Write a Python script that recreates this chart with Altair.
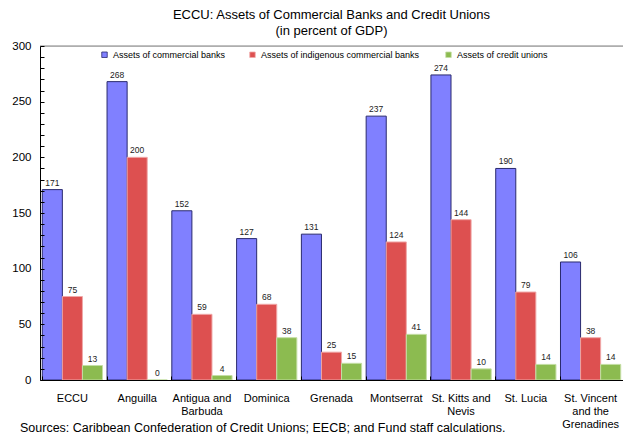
import altair as alt
import pandas as pd

categories = ["ECCU", "Anguilla", "Antigua and|Barbuda", "Dominica", "Grenada",
              "Montserrat", "St. Kitts and|Nevis", "St. Lucia", "St. Vincent|and the|Grenadines"]
series_names = ["Assets of commercial banks", "Assets of indigenous  commercial banks",
                "Assets of credit unions"]
commercial = [171, 268, 152, 127, 131, 237, 274, 190, 106]
indigenous = [75, 200, 59, 68, 25, 124, 144, 79, 38]
credit_unions = [13, 0, 4, 38, 15, 41, 10, 14, 14]

fills = ["#8080ff", "#dd5050", "#8cbb50"]
strokes = ["#2a2a6e", "#f0a8a8", "#c4dea4"]

rows = []
for vals, s in zip([commercial, indigenous, credit_unions], series_names):
    for c, v in zip(categories, vals):
        rows.append({"cat": c, "series": s, "value": v})
df = pd.DataFrame(rows)
one = pd.DataFrame({"a": [0]})

W, H = 583, 334
FONT = "Liberation Sans"

x_scale = alt.Scale(domain=categories, paddingInner=0.07, paddingOuter=0.035)
xo_scale = alt.Scale(domain=series_names, paddingInner=0, paddingOuter=0)
y_scale = alt.Scale(domain=[0, 300], nice=False)

bars = alt.Chart(df).mark_bar(strokeWidth=1).encode(
    x=alt.X("cat:N", sort=categories, scale=x_scale,
            axis=alt.Axis(title=None, orient="bottom", labelAngle=0,
                          labelExpr="split(datum.label, '|')", labelFontSize=11,
                          labelLineHeight=13, labelPadding=12, ticks=False,
                          domainColor="black", labelColor="black", labelBaseline="top",
                          labelFont=FONT, zindex=1)),
    xOffset=alt.XOffset("series:N", sort=series_names, scale=xo_scale),
    y=alt.Y("value:Q", scale=y_scale,
            axis=alt.Axis(title=None, orient="left", values=list(range(0, 301, 50)),
                          ticks=False, labelPadding=9, labelFontSize=11.5, grid=False,
                          domainColor="black", labelColor="black", labelFont=FONT,
                          zindex=1)),
    color=alt.Color("series:N", sort=series_names,
                    scale=alt.Scale(domain=series_names, range=fills),
                    legend=alt.Legend(title=None, orient="none", legendX=60, legendY=4,
                                      direction="horizontal", symbolType="square",
                                      symbolSize=30, labelFontSize=9, labelFont=FONT,
                                      columnPadding=22, labelColor="black", labelLimit=0,
                                      symbolStrokeWidth=0.8)),
    stroke=alt.Stroke("series:N", sort=series_names,
                      scale=alt.Scale(domain=series_names, range=strokes), legend=None),
)

labels = alt.Chart(df).mark_text(dy=-7, fontSize=8.5, color="#222222", font=FONT).encode(
    x=alt.X("cat:N", sort=categories,
            axis=alt.Axis(title=None, orient="top", offset=-H, bandPosition=0,
                          labels=False, domain=False, tickSize=4, tickColor="black",
                          tickWidth=1, zindex=2)),
    xOffset=alt.XOffset("series:N", sort=series_names),
    y=alt.Y("value:Q",
            axis=alt.Axis(title=None, orient="right", offset=-W, values=list(range(0, 301, 10)),
                          labels=False, domain=False, tickSize=4, tickColor="black",
                          tickWidth=1, grid=False, zindex=2)),
    text="value:Q",
)

top_rule = alt.Chart(one).mark_rule(color="#808080", strokeWidth=1).encode(
    x=alt.value(0), x2=alt.value(W), y=alt.value(0))

footer = alt.Chart(one).mark_text(
    text="Sources: Caribbean Confederation of Credit Unions;  EECB; and Fund staff calculations.",
    align="left", baseline="alphabetic", fontSize=12.5, font=FONT, color="black",
).encode(x=alt.value(-20), y=alt.value(H + 52))

chart = alt.layer(bars, labels, top_rule, footer).resolve_axis(
    x="independent", y="independent"
).properties(
    width=W, height=H,
    title=alt.TitleParams(["ECCU: Assets of Commercial Banks and Credit Unions",
                           "(in percent of GDP)"],
                          fontSize=13, fontWeight="normal", font=FONT, anchor="middle",
                          offset=2, lineHeight=16, color="black"),
    padding={"left": 32, "top": 38, "right": 0, "bottom": 56},
    autosize=alt.AutoSizeParams(type="none"),
).configure_view(stroke=None).configure(font=FONT)

chart.save("out.html", embed_options={"renderer": "svg", "actions": False})
